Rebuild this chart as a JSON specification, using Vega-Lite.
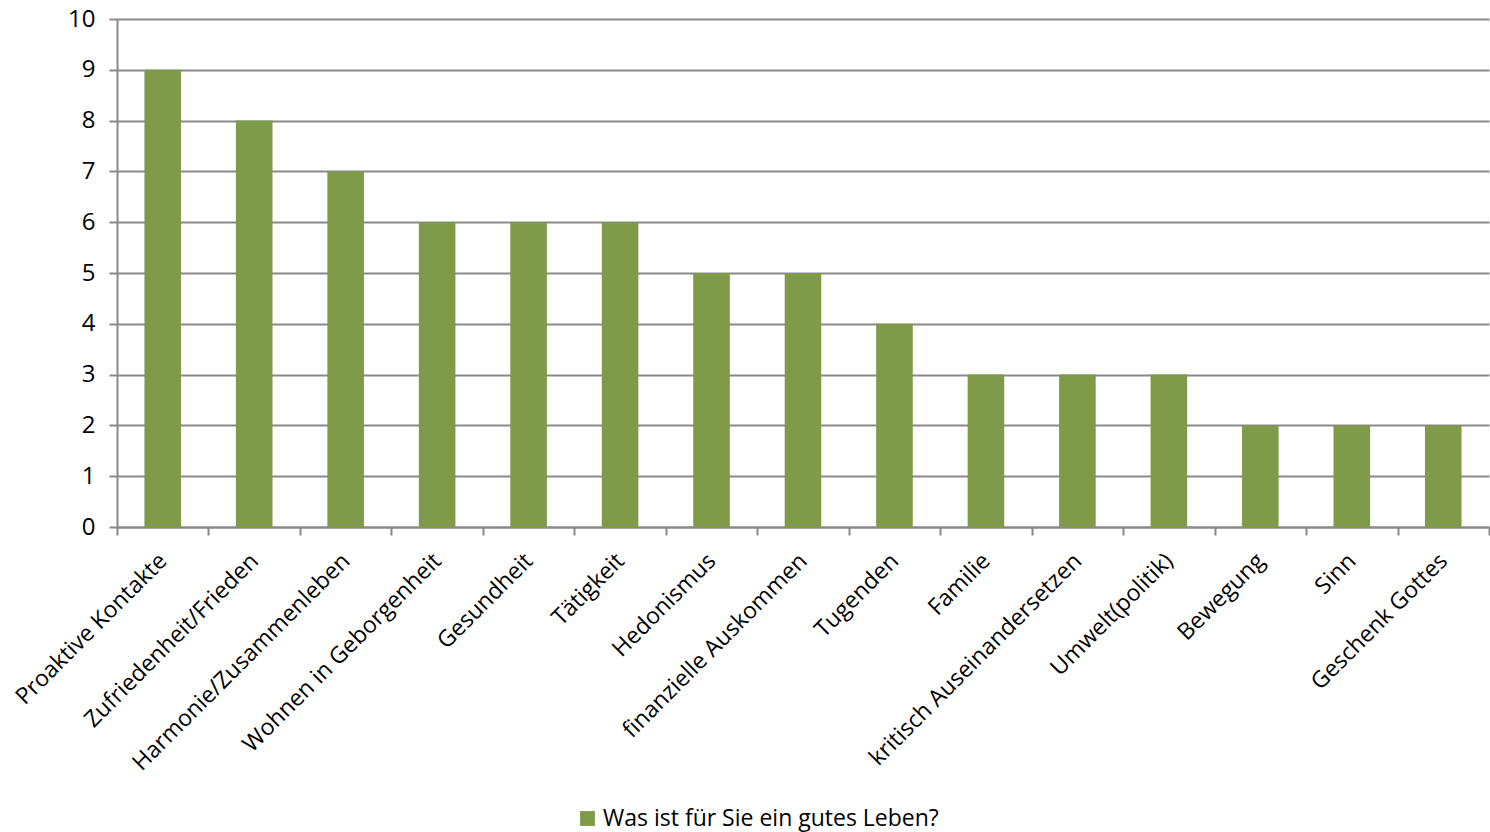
{
  "$schema": "https://vega.github.io/schema/vega-lite/v6.json",
  "autosize": "none",
  "width": 1372,
  "height": 508,
  "padding": {"left": 117, "top": 19, "right": 1, "bottom": 305},
  "background": "white",
  "config": {
    "view": {"stroke": null},
    "font": "Open Sans"
  },
  "data": {
    "values": [
      {"kategorie": "Proaktive Kontakte", "anzahl": 9, "serie": "Was ist für Sie ein gutes Leben?"},
      {"kategorie": "Zufriedenheit/Frieden", "anzahl": 8, "serie": "Was ist für Sie ein gutes Leben?"},
      {"kategorie": "Harmonie/Zusammenleben", "anzahl": 7, "serie": "Was ist für Sie ein gutes Leben?"},
      {"kategorie": "Wohnen in Geborgenheit", "anzahl": 6, "serie": "Was ist für Sie ein gutes Leben?"},
      {"kategorie": "Gesundheit", "anzahl": 6, "serie": "Was ist für Sie ein gutes Leben?"},
      {"kategorie": "Tätigkeit", "anzahl": 6, "serie": "Was ist für Sie ein gutes Leben?"},
      {"kategorie": "Hedonismus", "anzahl": 5, "serie": "Was ist für Sie ein gutes Leben?"},
      {"kategorie": "finanzielle Auskommen", "anzahl": 5, "serie": "Was ist für Sie ein gutes Leben?"},
      {"kategorie": "Tugenden", "anzahl": 4, "serie": "Was ist für Sie ein gutes Leben?"},
      {"kategorie": "Familie", "anzahl": 3, "serie": "Was ist für Sie ein gutes Leben?"},
      {"kategorie": "kritisch Auseinandersetzen", "anzahl": 3, "serie": "Was ist für Sie ein gutes Leben?"},
      {"kategorie": "Umwelt(politik)", "anzahl": 3, "serie": "Was ist für Sie ein gutes Leben?"},
      {"kategorie": "Bewegung", "anzahl": 2, "serie": "Was ist für Sie ein gutes Leben?"},
      {"kategorie": "Sinn", "anzahl": 2, "serie": "Was ist für Sie ein gutes Leben?"},
      {"kategorie": "Geschenk Gottes", "anzahl": 2, "serie": "Was ist für Sie ein gutes Leben?"}
    ]
  },
  "layer": [
    {
      "mark": {"type": "bar", "width": {"band": 0.4}},
      "encoding": {
        "x": {
          "field": "kategorie",
          "type": "nominal",
          "sort": null,
          "scale": {"paddingInner": 0, "paddingOuter": 0},
          "axis": {
            "title": null,
            "labelAngle": -45,
            "labelAlign": "right",
            "labelBaseline": "middle",
            "labelFontSize": 23,
            "labelColor": "#000000",
            "labelPadding": 22,
            "labelOverlap": false,
            "labelLimit": 0,
            "tickBand": "extent",
            "tickSize": 8,
            "tickWidth": 2,
            "tickColor": "#898989",
            "domainColor": "#898989",
            "domainWidth": 2,
            "grid": false
          }
        },
        "y": {
          "field": "anzahl",
          "type": "quantitative",
          "scale": {"domain": [0, 10], "nice": false},
          "axis": {
            "title": null,
            "values": [0, 1, 2, 3, 4, 5, 6, 7, 8, 9, 10],
            "labelFontSize": 24,
            "labelColor": "#000000",
            "labelPadding": 14,
            "tickSize": 8,
            "tickWidth": 2,
            "tickColor": "#898989",
            "domainColor": "#898989",
            "domainWidth": 2,
            "grid": true,
            "gridColor": "#898989",
            "gridWidth": 2
          }
        },
        "color": {
          "field": "serie",
          "type": "nominal",
          "scale": {"range": ["#7F9A48"]},
          "legend": {
            "title": null,
            "orient": "none",
            "legendX": 459,
            "legendY": 788,
            "symbolType": "square",
            "symbolSize": 220,
            "symbolStrokeWidth": 0,
            "labelFontSize": 23,
            "labelColor": "#000000",
            "labelLimit": 0
          }
        }
      }
    }
  ]
}
